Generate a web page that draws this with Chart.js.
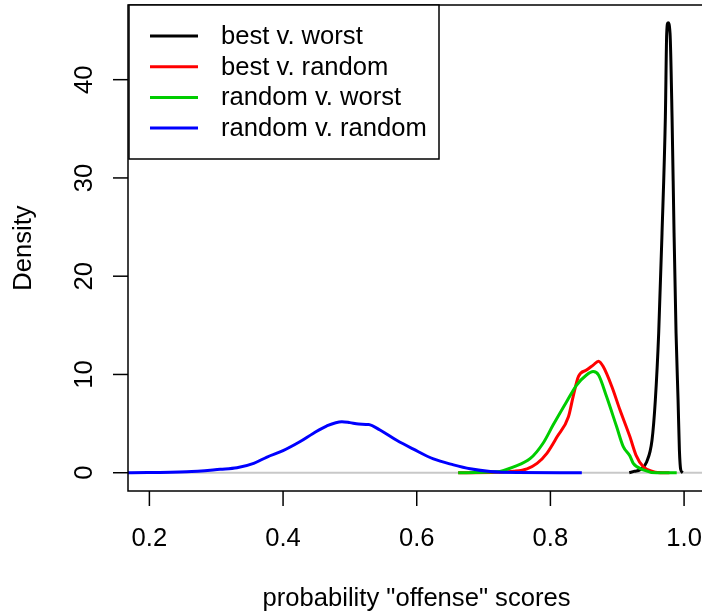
<!DOCTYPE html>
<html lang="en">
<head>
    <meta charset="UTF-8">
    <title>density</title>
    <script src="https://cdn.jsdelivr.net/npm/chart.js@4.4.1/dist/chart.umd.min.js"></script>
    <style>
        html, body { margin: 0; padding: 0; background: #fff; overflow: hidden; }
        #wrap { width: 712px; height: 613px; position: relative; }
    </style>
</head>
<body>
<div id="wrap">
    <canvas id="myChart"></canvas>
</div>

<script type="text/javascript">
    // series names (legend order)
    var seriesNames = ["best v. worst", "best v. random", "random v. worst", "random v. random"];
    var seriesColors = ["#000000", "#ff0000", "#00cd00", "#0000ff"];

    // best v. worst
    var bwX = [0.918, 0.926, 0.934, 0.944, 0.952, 0.957, 0.962, 0.967, 0.972, 0.974, 0.976, 0.979, 0.982, 0.985, 0.988, 0.991, 0.993, 0.995, 0.998];
    var bwY = [0.0, 0.15, 0.3, 1.1, 3.3, 7.4, 14.2, 24.4, 36.2, 44.7, 45.8, 44.7, 36.2, 24.4, 14.2, 7.4, 2.3, 0.3, 0.0];

    // best v. random
    var brX = [0.662, 0.720, 0.745, 0.765, 0.780, 0.795, 0.810, 0.827, 0.834, 0.842, 0.854, 0.864, 0.872, 0.879, 0.892, 0.904, 0.919, 0.928, 0.939, 0.954, 0.969, 0.978];
    var brY = [0.0, 0.05, 0.15, 0.4, 0.95, 2.0, 3.65, 5.7, 7.75, 9.8, 10.45, 10.95, 11.35, 10.8, 8.75, 6.4, 3.65, 1.8, 0.6, 0.1, 0.0, 0.0];

    // random v. worst
    var rwX = [0.662, 0.720, 0.745, 0.770, 0.789, 0.804, 0.824, 0.839, 0.854, 0.864, 0.872, 0.884, 0.899, 0.909, 0.919, 0.924, 0.939, 0.959, 0.989];
    var rwY = [0.0, 0.1, 0.6, 1.45, 3.0, 4.85, 7.2, 8.9, 9.95, 10.3, 9.95, 7.75, 4.7, 2.65, 1.7, 0.95, 0.3, 0.0, 0.0];

    // random v. random
    var rrX = [0.168, 0.256, 0.306, 0.331, 0.356, 0.376, 0.400, 0.425, 0.445, 0.465, 0.488, 0.500, 0.513, 0.528, 0.545, 0.570, 0.595, 0.625, 0.655, 0.680, 0.710, 0.750, 0.847];
    var rrY = [0.0, 0.1, 0.35, 0.5, 0.95, 1.6, 2.25, 3.15, 4.0, 4.75, 5.2, 5.1, 4.95, 4.9, 4.35, 3.3, 2.4, 1.4, 0.8, 0.4, 0.12, 0.02, 0.0];

    var xTicks = [0.2, 0.4, 0.6, 0.8, 1.0];
    var yTicks = [0, 10, 20, 30, 40];
    var xTitle = 'probability "offense" scores';
    var yTitle = "Density";

    var FONT = '25.6px "Liberation Sans", Arial, sans-serif';

    function pts(xs, ys) {
        var out = [];
        for (var i = 0; i < xs.length; i++) out.push({x: xs[i], y: ys[i]});
        return out;
    }

    var allX = [bwX, brX, rwX, rrX];
    var allY = [bwY, brY, rwY, rrY];
    var datasets = [];
    for (var i = 0; i < seriesNames.length; i++) {
        datasets.push({
            label: seriesNames[i],
            data: pts(allX[i], allY[i]),
            borderColor: seriesColors[i],
            borderWidth: 3,
            pointRadius: 0,
            fill: false,
            cubicInterpolationMode: "monotone",
            order: seriesNames.length - i   // later series on top, like R
        });
    }

    // R style axes, box and legend
    var rStyle = {
        id: "rStyle",
        beforeDatasetsDraw: function (chart) {
            var c = chart.ctx, a = chart.chartArea, y = chart.scales.y;
            var y0 = y.getPixelForValue(0);
            c.save();
            c.strokeStyle = "#c8c8c8";
            c.lineWidth = 2;
            c.beginPath();
            c.moveTo(a.left, y0);
            c.lineTo(a.right, y0);
            c.stroke();
            c.restore();
        },
        afterDatasetsDraw: function (chart) {
            var c = chart.ctx, a = chart.chartArea;
            var xs = chart.scales.x, ys = chart.scales.y;
            c.save();
            c.strokeStyle = "#000";
            c.lineWidth = 1.5;
            c.strokeRect(a.left, a.top, a.right - a.left, a.bottom - a.top);

            c.fillStyle = "#000";
            c.font = FONT;

            // x ticks
            c.textAlign = "center";
            c.textBaseline = "alphabetic";
            xTicks.forEach(function (v) {
                var px = xs.getPixelForValue(v);
                c.beginPath();
                c.moveTo(px, a.bottom);
                c.lineTo(px, a.bottom + 15);
                c.stroke();
                c.fillText(v.toFixed(1), px, 546);
            });
            c.fillText(xTitle, (a.left + a.right) / 2, 606);

            // y ticks (rotated labels)
            yTicks.forEach(function (v) {
                var py = ys.getPixelForValue(v);
                c.beginPath();
                c.moveTo(a.left - 15, py);
                c.lineTo(a.left, py);
                c.stroke();
                c.save();
                c.translate(92, py);
                c.rotate(-Math.PI / 2);
                c.fillText(String(v), 0, 0);
                c.restore();
            });
            c.save();
            c.translate(31, (a.top + a.bottom) / 2);
            c.rotate(-Math.PI / 2);
            c.fillText(yTitle, 0, 0);
            c.restore();

            // legend box
            c.fillStyle = "#fff";
            c.fillRect(129, 5, 310, 154);
            c.strokeRect(129, 5, 310, 154);
            c.textAlign = "left";
            c.textBaseline = "middle";
            for (var i = 0; i < seriesNames.length; i++) {
                var ry = 36 + i * 30.7;
                c.strokeStyle = seriesColors[i];
                c.lineWidth = 3;
                c.beginPath();
                c.moveTo(150, ry);
                c.lineTo(198, ry);
                c.stroke();
                c.fillStyle = "#000";
                c.fillText(seriesNames[i], 221, ry + 1);
            }
            c.restore();
        }
    };

    var ctx = document.getElementById("myChart");
    new Chart(ctx, {
        type: "line",
        data: {datasets: datasets},
        options: {
            responsive: true,
            maintainAspectRatio: false,
            animation: false,
            layout: {padding: {left: 128, top: 5, right: 7, bottom: 122}},
            plugins: {legend: {display: false}, tooltip: {enabled: false}},
            scales: {
                x: {type: "linear", min: 0.168, max: 1.0313, display: false},
                y: {type: "linear", min: -1.86, max: 47.6, display: false}
            }
        },
        plugins: [rStyle]
    });
</script>
</body>
</html>
